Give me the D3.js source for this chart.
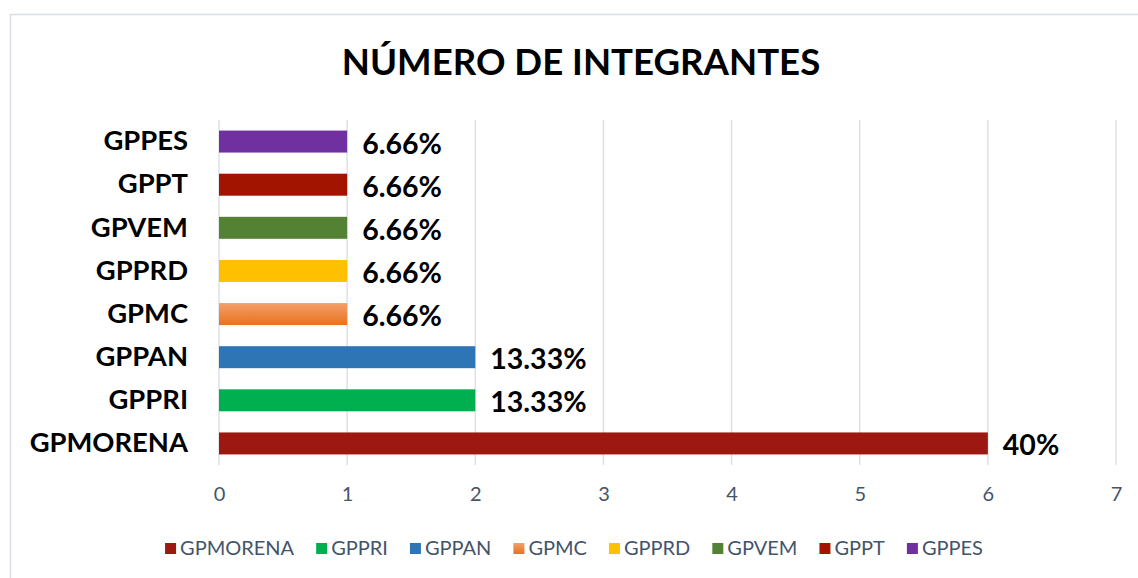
<!DOCTYPE html>
<html>
<head>
<meta charset="utf-8">
<script src="https://cdn.jsdelivr.net/npm/d3@7"></script>
<style>
  body { margin: 0; background: #fff; }
  svg { display: block; }
</style>
</head>
<body>
<script>
// data
var categories = ["GPMORENA", "GPPRI", "GPPAN", "GPMC", "GPPRD", "GPVEM", "GPPT", "GPPES"];
var values = [6, 2, 2, 1, 1, 1, 1, 1];
var labels = ["40%", "13.33%", "13.33%", "6.66%", "6.66%", "6.66%", "6.66%", "6.66%"];
var colors = ["#9C1810", "#00B050", "#2E75B6", "url(#orangeGrad)", "#FFC000", "#548235", "#A31400", "#7030A0"];
var xTicks = [0, 1, 2, 3, 4, 5, 6, 7];

var W = 1138, H = 578;
var margin = {top: 120, left: 219, right: 22, bottom: 113};
var width = W - margin.left - margin.right,
    height = H - margin.top - margin.bottom;

var svg = d3.select("body").append("svg")
    .attr("width", W)
    .attr("height", H);

// gradient for GPMC bar
var grad = svg.append("defs").append("linearGradient")
    .attr("id", "orangeGrad")
    .attr("x1", 0).attr("y1", 0).attr("x2", 0).attr("y2", 1);
grad.append("stop").attr("offset", "0%").attr("stop-color", "#F4A06A");
grad.append("stop").attr("offset", "100%").attr("stop-color", "#E8711E");

// chart border
svg.append("rect")
    .attr("x", 10.5).attr("y", 14.5)
    .attr("width", W).attr("height", H)
    .attr("fill", "#fff")
    .attr("stroke", "#D9DDE3")
    .attr("stroke-width", 1.5);

// title
svg.append("text")
    .attr("x", 581).attr("y", 75)
    .attr("text-anchor", "middle")
    .attr("font-family", "Lato, 'Open Sans', sans-serif")
    .attr("font-weight", "bold")
    .attr("font-size", 36.6)
    .attr("fill", "#000")
    .text("NÚMERO DE INTEGRANTES");

var g = svg.append("g")
    .attr("transform", "translate(" + margin.left + "," + margin.top + ")");

var x = d3.scaleLinear()
    .domain([0, 7])
    .range([0, width]);

var y = d3.scaleBand()
    .domain(categories.slice().reverse())
    .range([0, height])
    .paddingInner(0.49)
    .paddingOuter(0.245);

// grid lines
g.selectAll(".grid")
    .data(xTicks)
    .enter().append("line")
    .attr("class", "grid")
    .attr("x1", function(d) { return x(d); })
    .attr("x2", function(d) { return x(d); })
    .attr("y1", 0)
    .attr("y2", height)
    .attr("stroke", "#DDE1E6")
    .attr("stroke-width", 1.5);

// x axis
var xAxis = g.append("g")
    .attr("transform", "translate(0," + height + ")")
    .call(d3.axisBottom(x).tickValues(xTicks).tickFormat(d3.format("d")).tickSize(0).tickPadding(22));
xAxis.select(".domain").remove();
xAxis.selectAll("text")
    .attr("font-family", "Lato, 'Open Sans', sans-serif")
    .attr("font-size", 20)
    .attr("fill", "#44546A");

// y axis labels
var yAxis = g.append("g")
    .call(d3.axisLeft(y).tickSize(0).tickPadding(31));
yAxis.select(".domain").remove();
yAxis.selectAll("text")
    .attr("font-family", "Lato, 'Open Sans', sans-serif")
    .attr("font-weight", "bold")
    .attr("font-size", 27.4)
    .attr("fill", "#000");

// bars
g.selectAll(".bar")
    .data(categories)
    .enter().append("rect")
    .attr("class", "bar")
    .attr("x", x(0))
    .attr("y", function(d) { return y(d); })
    .attr("width", function(d, i) { return x(values[i]) - x(0); })
    .attr("height", y.bandwidth())
    .attr("fill", function(d, i) { return colors[i]; });

// value labels
g.selectAll(".lbl")
    .data(categories)
    .enter().append("text")
    .attr("class", "lbl")
    .attr("x", function(d, i) { return x(values[i]) + 15; })
    .attr("y", function(d) { return y(d) + y.bandwidth() / 2 + 12; })
    .attr("font-family", "Lato, 'Open Sans', sans-serif")
    .attr("font-weight", "bold")
    .attr("font-size", 28.5)
    .attr("fill", "#000")
    .text(function(d, i) { return labels[i]; });

// legend
var legend = svg.append("g");
var items = legend.selectAll(".item")
    .data(categories)
    .enter().append("g")
    .attr("class", "item");
items.append("rect")
    .attr("width", 11).attr("height", 11)
    .attr("y", -12)
    .attr("fill", function(d, i) { return colors[i]; });
items.append("text")
    .attr("x", 15)
    .attr("font-family", "Lato, 'Open Sans', sans-serif")
    .attr("font-size", 20)
    .attr("fill", "#44546A")
    .text(function(d) { return d; });

var pos = 0, gap = 22, offs = [];
items.each(function() {
    offs.push(pos);
    pos += 15 + this.querySelector("text").getComputedTextLength() + gap;
});
var total = pos - gap;
var startX = 574 - total / 2;
items.attr("transform", function(d, i) {
    return "translate(" + (startX + offs[i]) + ",555)";
});
</script>
</body>
</html>
